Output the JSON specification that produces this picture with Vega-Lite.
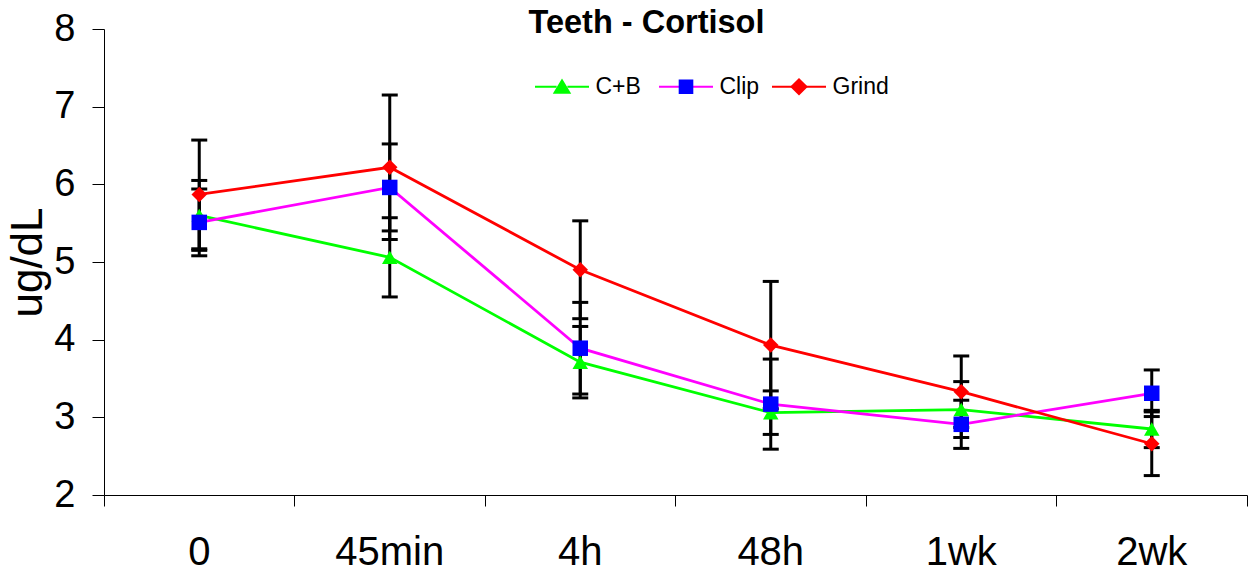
{
  "$schema": "https://vega.github.io/schema/vega-lite/v6.json",
  "width": 1143,
  "height": 466,
  "autosize": {"type": "none"},
  "padding": {"left": 104, "top": 29, "right": 2, "bottom": 78},
  "background": "white",
  "config": {
    "view": {"stroke": null},
    "font": "Liberation Sans",
    "axis": {"grid": false, "domainColor": "black", "tickColor": "black", "labelColor": "black", "titleColor": "black", "domainWidth": 1, "tickWidth": 1}
  },
  "title": {
    "text": "Teeth - Cortisol",
    "fontSize": 32.5,
    "fontWeight": "bold",
    "font": "Liberation Sans",
    "color": "black",
    "anchor": "middle",
    "frame": "group",
    "baseline": "alphabetic",
    "offset": 0,
    "dx": -29,
    "dy": 55
  },
  "data": {
    "values": [
      {"series": "C+B", "t": "0", "mean": 5.60, "lo": 5.15, "hi": 6.05},
      {"series": "C+B", "t": "45min", "mean": 5.06, "lo": 4.55, "hi": 5.57},
      {"series": "C+B", "t": "4h", "mean": 3.71, "lo": 3.25, "hi": 4.17},
      {"series": "C+B", "t": "48h", "mean": 3.06, "lo": 2.78, "hi": 3.34},
      {"series": "C+B", "t": "1wk", "mean": 3.10, "lo": 2.74, "hi": 3.46},
      {"series": "C+B", "t": "2wk", "mean": 2.85, "lo": 2.61, "hi": 3.09},
      {"series": "Clip", "t": "0", "mean": 5.51, "lo": 5.08, "hi": 5.94},
      {"series": "Clip", "t": "45min", "mean": 5.96, "lo": 5.40, "hi": 6.52},
      {"series": "Clip", "t": "4h", "mean": 3.89, "lo": 3.30, "hi": 4.48},
      {"series": "Clip", "t": "48h", "mean": 3.17, "lo": 2.59, "hi": 3.75},
      {"series": "Clip", "t": "1wk", "mean": 2.91, "lo": 2.60, "hi": 3.22},
      {"series": "Clip", "t": "2wk", "mean": 3.31, "lo": 3.01, "hi": 3.61},
      {"series": "Grind", "t": "0", "mean": 5.87, "lo": 5.17, "hi": 6.57},
      {"series": "Grind", "t": "45min", "mean": 6.22, "lo": 5.29, "hi": 7.15},
      {"series": "Grind", "t": "4h", "mean": 4.90, "lo": 4.27, "hi": 5.53},
      {"series": "Grind", "t": "48h", "mean": 3.93, "lo": 3.11, "hi": 4.75},
      {"series": "Grind", "t": "1wk", "mean": 3.33, "lo": 2.87, "hi": 3.79},
      {"series": "Grind", "t": "2wk", "mean": 2.66, "lo": 2.25, "hi": 3.07}
    ]
  },
  "encoding": {
    "x": {
      "field": "t",
      "type": "nominal",
      "sort": null,
      "scale": {"type": "band", "domain": ["0", "45min", "4h", "48h", "1wk", "2wk"], "paddingInner": 0, "paddingOuter": 0},
      "axis": {
        "title": null,
        "labelAngle": 0,
        "labelFontSize": 40,
        "labelFont": "Liberation Sans",
        "labelPadding": 26,
        "tickSize": 11,
        "bandPosition": 1,
        "tickExtra": true
      }
    }
  },
  "layer": [
    {
      "mark": {"type": "rule", "color": "black", "strokeWidth": 3},
      "encoding": {
        "y": {
          "field": "lo",
          "type": "quantitative",
          "scale": {"domain": [2, 8], "nice": false, "zero": false},
          "axis": {
            "title": "ug/dL",
            "titleFontSize": 44,
            "titleFontWeight": "normal",
            "titleFont": "Liberation Sans",
            "titleX": -63,
            "titleY": 233,
            "titleAngle": -90,
            "titleAlign": "center",
            "titleBaseline": "alphabetic",
            "values": [2, 3, 4, 5, 6, 7, 8],
            "format": "d",
            "tickSize": 12,
            "labelFontSize": 38,
            "labelFont": "Liberation Sans",
            "labelPadding": 17
          }
        },
        "y2": {"field": "hi"}
      }
    },
    {
      "mark": {"type": "tick", "color": "black", "thickness": 3, "size": 16, "opacity": 1},
      "encoding": {"y": {"field": "hi", "type": "quantitative"}}
    },
    {
      "mark": {"type": "tick", "color": "black", "thickness": 3, "size": 16, "opacity": 1},
      "encoding": {"y": {"field": "lo", "type": "quantitative"}}
    },
    {
      "mark": {"type": "line", "strokeWidth": 2.8},
      "encoding": {
        "y": {"field": "mean", "type": "quantitative"},
        "order": {"value": null},
        "stroke": {
          "field": "series",
          "type": "nominal",
          "scale": {"domain": ["C+B", "Clip", "Grind"], "range": ["#00FF00", "#FF00FF", "#FF0000"]},
          "legend": null
        }
      }
    },
    {
      "mark": {"type": "point", "filled": true, "opacity": 1, "size": 240},
      "encoding": {
        "y": {"field": "mean", "type": "quantitative"},
        "fill": {
          "field": "series",
          "type": "nominal",
          "scale": {"domain": ["C+B", "Clip", "Grind"], "range": ["#00FF00", "#0000FF", "#FF0000"]},
          "legend": null
        },
        "shape": {
          "field": "series",
          "type": "nominal",
          "scale": {"domain": ["C+B", "Clip", "Grind"], "range": ["triangle-up", "square", "diamond"]},
          "legend": null
        }
      }
    },
    {
      "transform": [{"filter": "false"}],
      "mark": {"type": "point", "filled": false, "opacity": 1, "size": 2916, "strokeWidth": 2.2},
      "encoding": {
        "x": null,
        "stroke": {
          "field": "series",
          "type": "nominal",
          "scale": {"domain": ["C+B", "Clip", "Grind"], "range": ["#00FF00", "#FF00FF", "#FF0000"]},
          "legend": {
            "orient": "none",
            "legendX": 429.5,
            "legendY": 29,
            "direction": "horizontal",
            "gridAlign": "each",
            "title": null,
            "labelExpr": "''",
            "labelFontSize": 23,
            "labelFont": "Liberation Sans",
            "symbolSize": 2916,
            "symbolStrokeWidth": 2.2,
            "symbolOpacity": 1,
            "labelOffset": 5,
            "columnPadding": 0,
            "padding": 0
          }
        },
        "shape": {
          "field": "series",
          "type": "nominal",
          "scale": {
            "domain": ["C+B", "Clip", "Grind"],
            "range": [
              "M-1,0H-0.2M0.2,0H1M3.23,0",
              "M-1,0H-0.2M0.2,0H1M2.84,0",
              "M-1,0H-0.2M0.2,0H1M3.4,0"
            ]
          }
        }
      }
    },
    {
      "transform": [{"filter": "false"}],
      "mark": {"type": "point", "filled": true, "opacity": 1, "size": 2916, "strokeWidth": 2.2},
      "encoding": {
        "x": null,
        "fill": {
          "field": "series",
          "type": "nominal",
          "scale": {"domain": ["C+B", "Clip", "Grind"], "range": ["#00FF00", "#0000FF", "#FF0000"]},
          "legend": {
            "orient": "none",
            "legendX": 429.5,
            "legendY": 29,
            "direction": "horizontal",
            "gridAlign": "each",
            "title": null,
            "labelFontSize": 23,
            "labelFont": "Liberation Sans",
            "labelColor": "black",
            "symbolSize": 2916,
            "symbolStrokeWidth": 2.2,
            "symbolOpacity": 1,
            "labelOffset": 5,
            "columnPadding": 0,
            "padding": 0
          }
        },
        "stroke": {
          "field": "series",
          "type": "nominal",
          "scale": {"domain": ["C+B", "Clip", "Grind"], "range": ["#00FF00", "#0000FF", "#FF0000"]}
        },
        "shape": {
          "field": "series",
          "type": "nominal",
          "scale": {
            "domain": ["C+B", "Clip", "Grind"],
            "range": [
              "M-1,0M0,-0.23L0.27,0.22L-0.27,0.22ZM3.23,0",
              "M-1,0M-0.23,-0.23H0.23V0.23H-0.23ZM2.84,0",
              "M-1,0M-0.27,0L0,-0.27L0.27,0L0,0.27ZM3.4,0"
            ]
          }
        }
      }
    }
  ],
  "resolve": {"scale": {"fill": "independent", "stroke": "independent", "shape": "independent"}}
}
